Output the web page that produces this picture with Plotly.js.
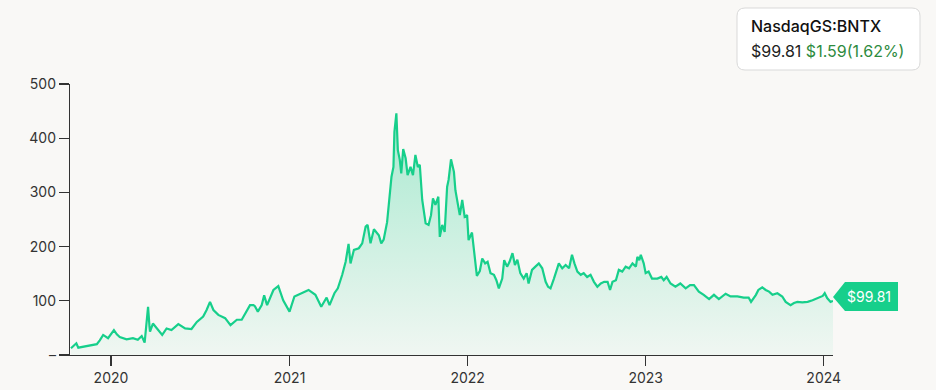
<!DOCTYPE html>
<html><head><meta charset="utf-8">
<script src="https://cdn.plot.ly/plotly-3.0.1.min.js"></script>
<style>html,body{margin:0;padding:0;background:#f9f8f6;}#chart{width:936px;height:390px;}</style>
</head><body><div id="chart"></div>
<script>
const dates = [
'2019-10-11','2019-10-22','2019-10-26','2019-11-09','2019-11-19','2019-12-03','2019-12-09','2019-12-16','2019-12-26',
'2020-01-07','2020-01-13','2020-01-19','2020-02-02','2020-02-15','2020-02-25','2020-03-04','2020-03-10','2020-03-17','2020-03-20','2020-03-21','2020-03-27',
'2020-04-07','2020-04-15','2020-04-24','2020-05-04','2020-05-18','2020-06-01','2020-06-14','2020-06-25','2020-07-08','2020-07-15','2020-07-22','2020-07-29',
'2020-08-08','2020-08-22','2020-09-02','2020-09-15','2020-09-25','2020-10-07','2020-10-12','2020-10-19','2020-10-22','2020-10-28','2020-11-05','2020-11-10',
'2020-11-16','2020-11-29','2020-12-09','2020-12-19',
'2021-01-01','2021-01-11','2021-01-27','2021-02-09','2021-02-23','2021-03-07','2021-03-18','2021-03-24','2021-04-03','2021-04-10','2021-04-19','2021-04-26',
'2021-05-02','2021-05-06','2021-05-13','2021-05-23','2021-05-30','2021-06-06','2021-06-10','2021-06-16','2021-06-23','2021-07-03','2021-07-08','2021-07-13',
'2021-07-20','2021-07-24','2021-07-29','2021-08-02','2021-08-04','2021-08-08','2021-08-11','2021-08-15','2021-08-18','2021-08-22','2021-08-27','2021-08-31',
'2021-09-06','2021-09-11','2021-09-16','2021-09-21','2021-09-25','2021-09-30','2021-10-07','2021-10-13','2021-10-18','2021-10-22','2021-10-27','2021-11-02',
'2021-11-05','2021-11-10','2021-11-15','2021-11-20','2021-11-23','2021-11-28','2021-12-04','2021-12-07','2021-12-11','2021-12-16','2021-12-21','2021-12-26','2021-12-31',
'2022-01-03','2022-01-10','2022-01-13','2022-01-20','2022-01-26','2022-01-31','2022-02-06','2022-02-11','2022-02-17','2022-02-24','2022-03-01','2022-03-06',
'2022-03-13','2022-03-17','2022-03-23','2022-03-28','2022-04-03','2022-04-08','2022-04-13','2022-04-19','2022-04-26','2022-05-02','2022-05-06','2022-05-13',
'2022-05-20','2022-05-27','2022-06-03','2022-06-10','2022-06-15','2022-06-20','2022-06-27','2022-07-04','2022-07-07','2022-07-14','2022-07-21','2022-07-28',
'2022-08-03','2022-08-08','2022-08-14','2022-08-21','2022-08-27','2022-09-03','2022-09-10','2022-09-17','2022-09-24','2022-10-01','2022-10-08','2022-10-15',
'2022-10-20','2022-10-25','2022-11-01','2022-11-07','2022-11-14','2022-11-21','2022-11-28','2022-12-05','2022-12-12','2022-12-15','2022-12-19','2022-12-22','2022-12-28',
'2023-01-01','2023-01-07','2023-01-14','2023-01-25','2023-02-02','2023-02-07','2023-02-13','2023-02-21','2023-03-03','2023-03-13','2023-03-24','2023-04-02',
'2023-04-10','2023-04-20','2023-04-30','2023-05-11','2023-05-21','2023-05-31','2023-06-14','2023-06-24','2023-07-08','2023-07-21','2023-07-31','2023-08-05',
'2023-08-15','2023-08-20','2023-08-28','2023-09-04','2023-09-11','2023-09-18','2023-09-28','2023-10-08','2023-10-15','2023-10-25','2023-11-01','2023-11-08',
'2023-11-18','2023-11-29','2023-12-09','2023-12-19','2023-12-30','2024-01-03','2024-01-08','2024-01-15','2024-01-20'
];
const prices = [
12.4,21.6,13.5,16,17.5,20,27,37,31,
46,38,33,29,31,28,35,23,89,52,43,58,
46,37,49,46,57,49,48,61,71,83,98,83,
74,68,55,65,65,86,92,92,90,80,92,110,
92,120,127,101,
80,108,114,120,111,89,106,92,114,123,148,172,
205,169,194,197,206,237,240,206,232,221,206,213,
245,283,329,347,412,446,378,360,335,380,363,332,
347,332,369,347,351,286,243,240,258,289,277,292,
218,240,227,310,323,361,338,304,286,258,286,255,258,
212,226,205,146,155,178,169,172,151,148,138,123,
141,175,163,172,188,166,176,151,141,151,132,157,
163,169,160,135,126,123,141,160,169,160,166,160,
185,169,154,148,151,144,148,135,126,132,135,135,
120,135,138,157,154,163,160,169,163,181,175,185,169,
151,154,141,141,144,138,144,132,126,132,123,129,
129,117,111,103,111,103,113,108,108,106,106,98,
111,120,125,120,117,111,114,108,98,92,96,98,
97,98,101,105,109,114,105,98,99.81
];
const yTickVals = [0,100,200,300,400,500];
const yTickText = ['–','100','200','300','400','500'];
const xTickVals = ['2020-01-01','2021-01-01','2022-01-01','2023-01-01','2024-01-01'];
const xTickText = ['2020','2021','2022','2023','2024'];
const tickerName = 'NasdaqGS:BNTX';
const lastPriceLabel = '$99.81';
const changeLabel = '$1.59(1.62%)';

const GREEN = '#17cf8b';
const W = 936, H = 390;
const M = {l:70, r:103, t:84, b:35};
const pw = W - M.l - M.r, ph = H - M.t - M.b;
const px2x = p => (p - M.l) / pw;
const py2y = p => (H - M.b - p) / ph;

const lastDate = dates[dates.length-1];
const lastPrice = prices[prices.length-1];

// rounded info box in paper coords
const bx0 = px2x(737), bx1 = px2x(920), byT = py2y(8), byB = py2y(70);
const rx = 8/pw, ry = 8/ph;
const boxPath = `M ${bx0+rx},${byT} L ${bx1-rx},${byT} Q ${bx1},${byT} ${bx1},${byT-ry} L ${bx1},${byB+ry} Q ${bx1},${byB} ${bx1-rx},${byB} L ${bx0+rx},${byB} Q ${bx0},${byB} ${bx0},${byB+ry} L ${bx0},${byT-ry} Q ${bx0},${byT} ${bx0+rx},${byT} Z`;

const trace = {
  x: dates, y: prices, type: 'scatter', mode: 'lines',
  line: {color: GREEN, width: 2.2},
  fill: 'tozeroy',
  fillgradient: {type: 'vertical', start: 0, stop: 450,
    colorscale: [[0, 'rgba(23,207,139,0.04)'], [1, 'rgba(23,207,139,0.36)']]},
  hoverinfo: 'skip'
};

const layout = {
  width: W, height: H,
  margin: M,
  paper_bgcolor: '#f9f8f6', plot_bgcolor: '#f9f8f6',
  font: {family: 'Inter, "Open Sans", sans-serif', size: 14, color: '#333'},
  showlegend: false,
  xaxis: {
    type: 'date', range: [ '2019-10-09', lastDate ],
    tickvals: xTickVals, ticktext: xTickText,
    showline: true, linecolor: '#333', linewidth: 1.2,
    ticks: 'outside', ticklen: 10, tickcolor: '#333', tickwidth: 1.2,
    showgrid: false, zeroline: false,
    tickfont: {size: 14, color: '#333'}
  },
  yaxis: {
    range: [0, 500], tickvals: yTickVals, ticktext: yTickText,
    showline: true, linecolor: '#333', linewidth: 1.2,
    ticks: 'outside', ticklen: 10, tickcolor: '#333', tickwidth: 1.2,
    showgrid: false, zeroline: false,
    tickfont: {size: 14, color: '#333'}
  },
  shapes: [
    {type: 'path', xref: 'paper', yref: 'paper', path: boxPath,
     fillcolor: '#ffffff', line: {color: '#d9d9d9', width: 1}},
    {type: 'path', xref: 'paper', yref: 'y', xsizemode: 'pixel', ysizemode: 'pixel',
     xanchor: 1, yanchor: lastPrice,
     path: 'M 0,4 L 12,19 L 65,19 L 65,-10 L 12,-10 Z',
     fillcolor: GREEN, line: {width: 0}}
  ],
  annotations: [
    {xref: 'paper', yref: 'paper', x: px2x(749), y: py2y(26), xanchor: 'left', yanchor: 'middle',
     text: tickerName, showarrow: false, font: {size: 16, color: '#111', weight: 500}},
    {xref: 'paper', yref: 'paper', x: px2x(749), y: py2y(51), xanchor: 'left', yanchor: 'middle',
     text: lastPriceLabel + ' <span style="color:#2e8b3e">' + changeLabel + '</span>', showarrow: false,
     font: {size: 16, color: '#222'}},
    {xref: 'paper', yref: 'y', x: 1, y: lastPrice, xanchor: 'center', yanchor: 'middle',
     xshift: 36, yshift: 4, text: lastPriceLabel, showarrow: false,
     font: {size: 14, color: '#ffffff'}}
  ]
};

Plotly.newPlot('chart', [trace], layout, {displayModeBar: false, staticPlot: true});
</script></body></html>
